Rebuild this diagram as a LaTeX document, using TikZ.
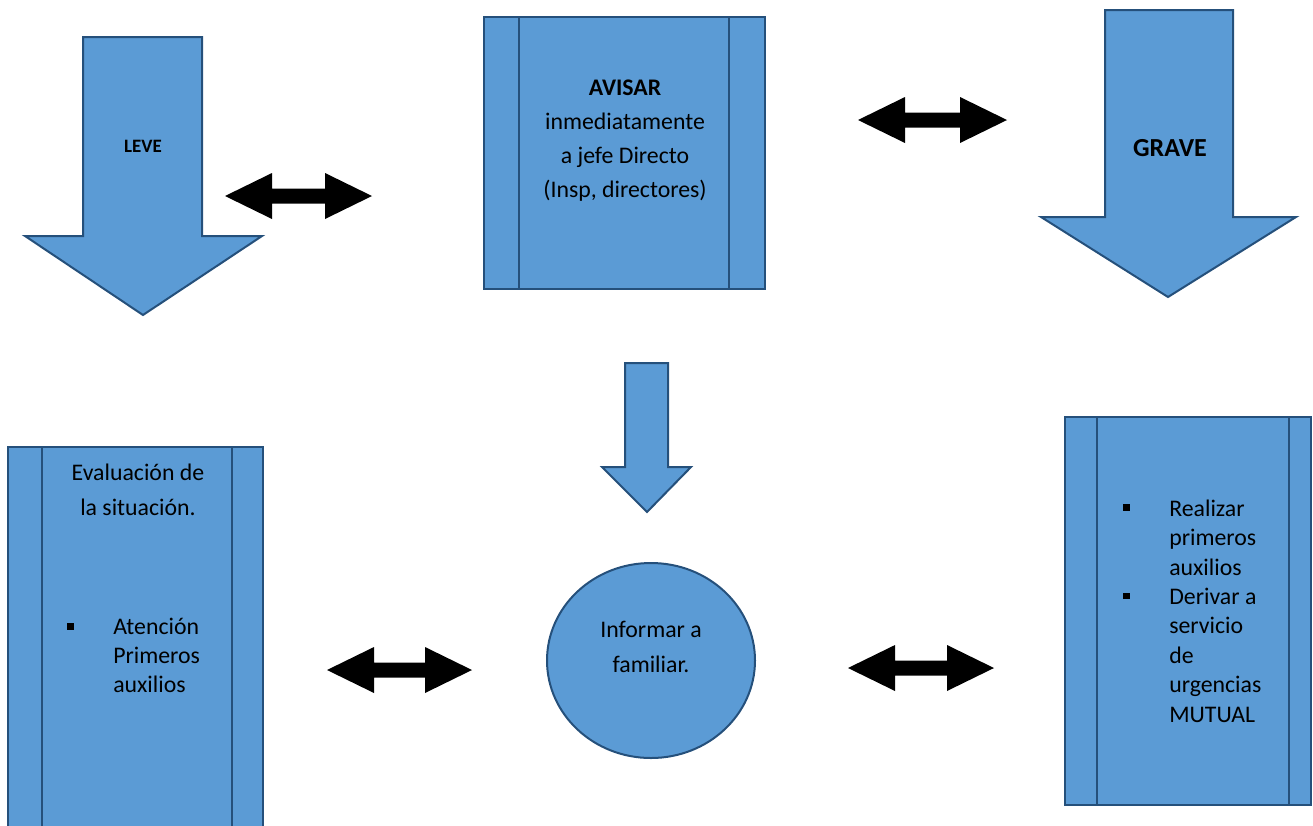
\documentclass[tikz,border=0pt]{standalone}
\usepackage{fontspec}
\setmainfont{Carlito}
\definecolor{fillblue}{HTML}{5B9BD5}
\definecolor{edgeblue}{HTML}{25507B}
\tikzset{
  arrowshape/.style={fill=fillblue, draw=edgeblue, line width=1.5pt, line join=miter},
  boxshape/.style={fill=fillblue, draw=edgeblue, line width=2.2pt},
  boxline/.style={draw=edgeblue, line width=2.2pt},
  txt/.style={inner sep=0pt, text=black, font=\fontsize{17.85}{25.5}\selectfont},
  bulletsq/.style={fill=black},
}
\newcommand\dblarrowshape[3]{%
  \fill[black] (#1,#3) -- ({#1+47},{#3-23}) -- ({#1+47},{#3-7.5}) -- ({#2-47},{#3-7.5})
    -- ({#2-47},{#3-23}) -- (#2,#3) -- ({#2-47},{#3+23}) -- ({#2-47},{#3+7.5})
    -- ({#1+47},{#3+7.5}) -- ({#1+47},{#3+23}) -- cycle;}
\begin{document}
\begin{tikzpicture}[x=0.75pt,y=-0.75pt]
\useasboundingbox (0,0) rectangle (1313,825);
\clip (0,0) rectangle (1313,825);

% LEVE down arrow
\draw[arrowshape] (83,37) -- (202,37) -- (202,236) -- (262,236) -- (143,315) -- (25,236) -- (83,236) -- cycle;
\node[txt, anchor=base, font=\bfseries\fontsize{14.2}{17}\selectfont] (leve) at (143,152) {LEVE};

% GRAVE down arrow
\draw[arrowshape] (1105,10) -- (1233,10) -- (1233,217) -- (1296,217) -- (1168,297) -- (1041,217) -- (1105,217) -- cycle;
\node[txt, anchor=base, font=\bfseries\fontsize{19.5}{23}\selectfont] (grave) at (1170,156) {GRAVE};

% AVISAR box
\draw[boxshape] (484,17) rectangle (765,289);
\draw[boxline] (519,17) -- (519,289);
\draw[boxline] (729,17) -- (729,289);
\node[txt, anchor=north, align=center] (avisar) at (625,71)
  {\rule{0pt}{18pt}\textbf{AVISAR}\\inmediatamente\\a jefe Directo\\(Insp, directores)};

% center down arrow
\draw[arrowshape] (625,363) -- (668,363) -- (668,467) -- (691,467) -- (647,512) -- (602,467) -- (625,467) -- cycle;

% left box
\draw[boxshape] (8,447) rectangle (263,840);
\draw[boxline] (42,447) -- (42,840);
\draw[boxline] (232,447) -- (232,840);
\node[txt, anchor=north, align=center, font=\fontsize{17.85}{26.25}\selectfont] (eval) at (138,456)
  {\rule{0pt}{18pt}Evaluación de\\la situación.};
\fill[bulletsq] (67,623.3) rectangle (73.5,630);
\node[txt, anchor=north west, align=left, font=\fontsize{17.85}{21.75}\selectfont] (aten) at (113,610)
  {\rule{0pt}{18pt}Atención\\Primeros\\auxilios};

% right box
\draw[boxshape] (1065,417) rectangle (1311,805);
\draw[boxline] (1097,417) -- (1097,805);
\draw[boxline] (1289,417) -- (1289,805);
\fill[bulletsq] (1123.3,504.3) rectangle (1130,511);
\fill[bulletsq] (1123.3,592.7) rectangle (1130,599.3);
\node[txt, anchor=north west, align=left, font=\fontsize{17.85}{22.05}\selectfont] (real) at (1169,492)
  {\rule{0pt}{18pt}Realizar\\primeros\\auxilios\\Derivar a\\servicio\\de\\urgencias\\MUTUAL};

% circle
\draw[arrowshape] (651,660.5) ellipse [x radius=104, y radius=97.5];
\node[txt, anchor=north, align=center, font=\fontsize{17.85}{26.25}\selectfont] (inf) at (651,613)
  {\rule{0pt}{18pt}Informar a\\familiar.};

% double arrows
\dblarrowshape{225}{372}{196}
\dblarrowshape{858}{1007}{120}
\dblarrowshape{327}{472}{670}
\dblarrowshape{848}{994}{668}
\end{tikzpicture}
\end{document}
